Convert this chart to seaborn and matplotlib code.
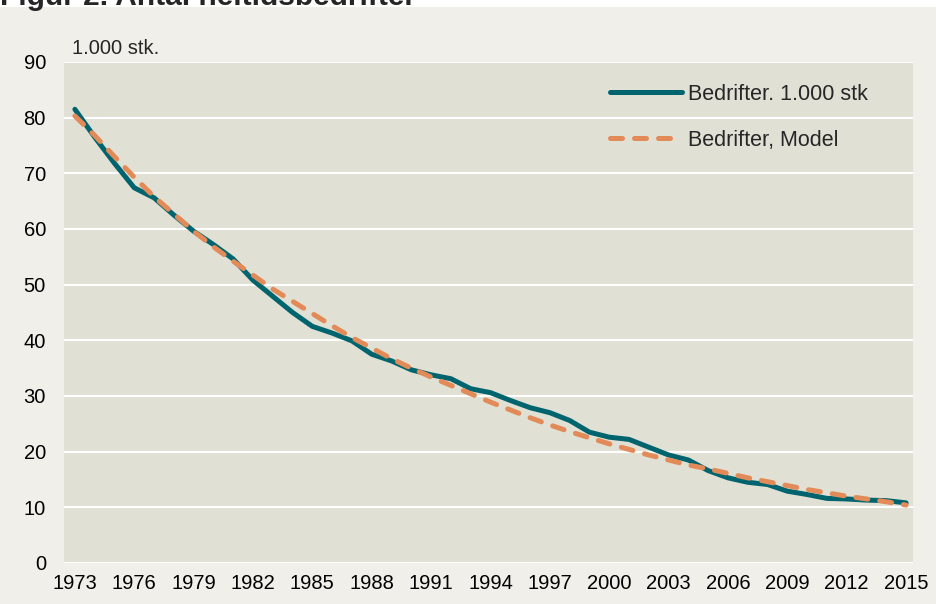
import numpy as np
import pandas as pd
import matplotlib.pyplot as plt
import seaborn as sns

years = list(range(1973, 2016))
actual = [81.5, 76.5, 71.8, 67.4, 65.6, 62.5, 59.6, 57.2, 54.6, 50.8,
          47.9, 45.0, 42.5, 41.3, 39.9, 37.5, 36.3, 34.7, 33.8, 33.1,
          31.3, 30.6, 29.2, 27.9, 27.0, 25.6, 23.5, 22.6, 22.2, 20.8,
          19.4, 18.5, 16.6, 15.3, 14.5, 14.1, 12.9, 12.3, 11.6, 11.5,
          11.3, 11.2, 10.8]
model = [80.3, 76.8, 73.0, 69.3, 65.8, 62.7, 59.6, 56.8, 54.2, 51.7,
         49.2, 47.0, 44.8, 42.6, 40.5, 38.6, 36.7, 35.0, 33.4, 31.9,
         30.4, 28.9, 27.5, 26.1, 24.8, 23.6, 22.5, 21.4, 20.4, 19.4,
         18.5, 17.6, 16.9, 16.1, 15.3, 14.6, 13.9, 13.2, 12.6, 12.0,
         11.5, 11.0, 10.4]
xticks = list(range(1973, 2016, 3))
yticks = list(range(0, 91, 10))

label_actual = 'Bedrifter. 1.000 stk'
label_model = 'Bedrifter, Model'

df = pd.DataFrame({'year': years, 'actual': actual, 'model': model})

sns.set_style('whitegrid', {'axes.facecolor': '#e1e0d5',
                            'grid.color': 'white',
                            'axes.edgecolor': '#e1e0d5'})
plt.rcParams['font.family'] = ['Liberation Sans', 'DejaVu Sans']

fig = plt.figure(figsize=(9.37, 6.04), dpi=100, facecolor='#f0efe9')
ax = fig.add_axes([0.0683, 0.0679, 0.9061, 0.8295])

sns.lineplot(data=df, x='year', y='actual', ax=ax, color='#00646e',
             linewidth=3.6, label=label_actual)
sns.lineplot(data=df, x='year', y='model', ax=ax, color='#e38b58',
             linewidth=3.6, label=label_model, dashes=False)
ax.lines[1].set_dashes((2.4, 2.4))
ax.lines[1].set_dash_capstyle('round')
ax.lines[0].set_solid_capstyle('round')

ax.set_xlim(1972.45, 2015.35)
ax.set_ylim(0, 90)
ax.set_xticks(xticks)
ax.set_yticks(yticks)
ax.tick_params(axis='both', labelsize=14.5, length=0, colors='black')
ax.tick_params(axis='y', pad=13)
ax.tick_params(axis='x', pad=8)
ax.grid(axis='x', visible=False)
ax.grid(axis='y', linewidth=1.5, color='white')
ax.set_xlabel('')
ax.set_ylabel('')
for s in ax.spines.values():
    s.set_visible(False)

ax.text(0.009, 1.026, '1.000 stk.', transform=ax.transAxes, fontsize=14.5,
        va='center', ha='left')

leg = ax.legend(loc='upper left', bbox_to_anchor=(0.643, 0.956), frameon=False,
                fontsize=15.5, handlelength=3.35, labelspacing=1.15,
                handletextpad=0.28, borderpad=0, borderaxespad=0)
for h in leg.get_lines():
    h.set_linewidth(3.6)

# cut-off heading strip at the very top
fig.patches.append(plt.Rectangle((0, 0.988), 1, 0.012, transform=fig.transFigure,
                                 facecolor='white', edgecolor='none', zorder=0))
fig.text(0.0, 1.0 - 5 / 604, 'Figur 2. Antal heltidsbedrifter', fontsize=21.5,
         fontweight='bold', ha='left', va='baseline')

fig.savefig('out.png', dpi=100, facecolor=fig.get_facecolor())
